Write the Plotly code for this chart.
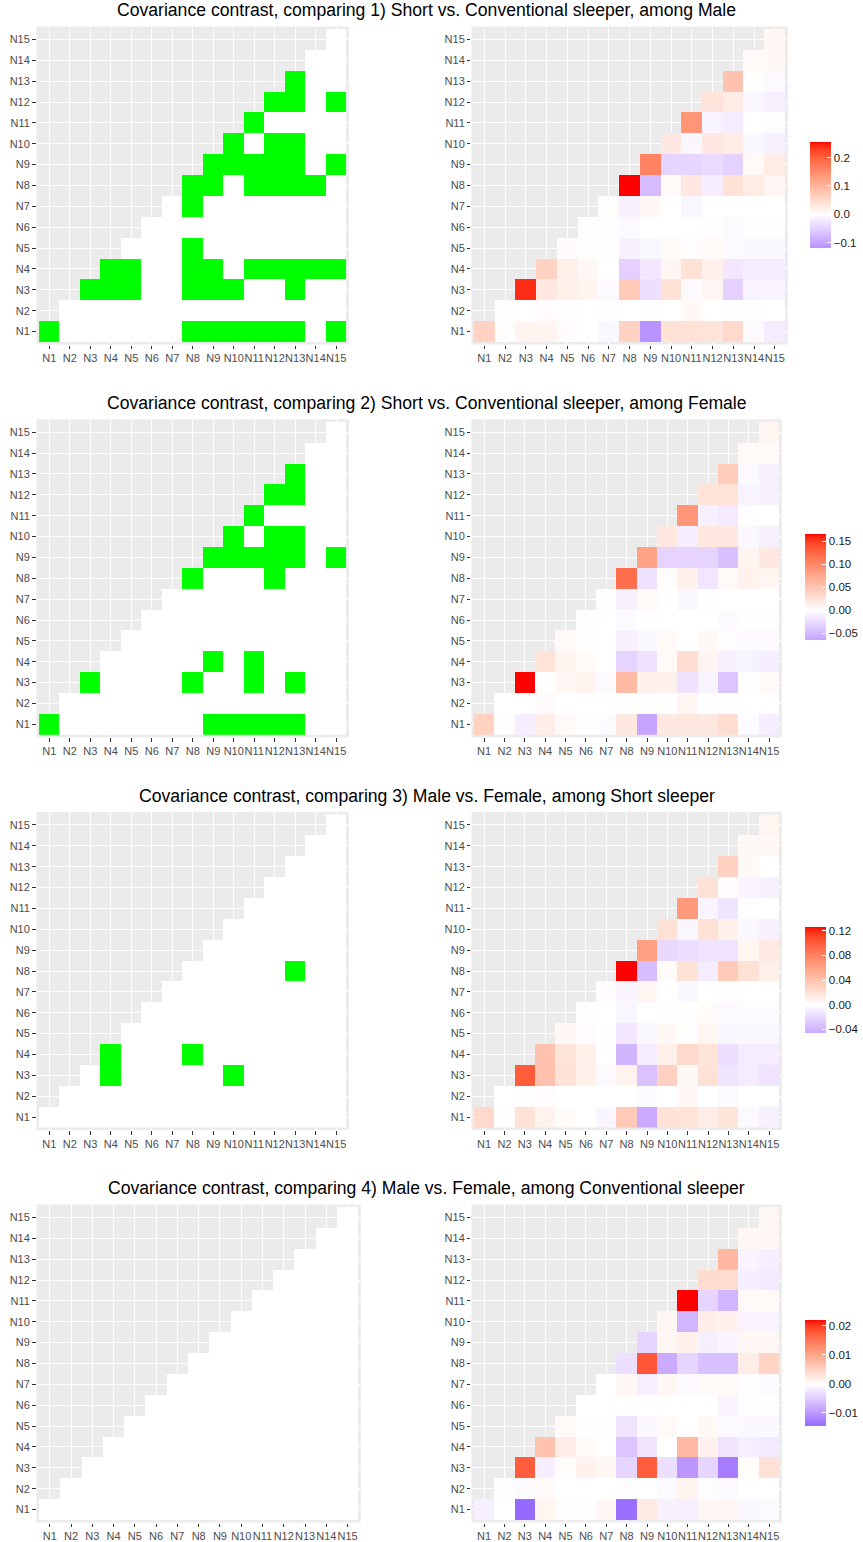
import numpy as np
import plotly.graph_objects as go

LABELS = [f"N{i}" for i in range(1, 16)]

TITLES = [
    "Covariance contrast, comparing 1) Short vs. Conventional sleeper, among Male",
    "Covariance contrast, comparing 2) Short vs. Conventional sleeper, among Female",
    "Covariance contrast, comparing 3) Male vs. Female, among Short sleeper",
    "Covariance contrast, comparing 4) Male vs. Female, among Conventional sleeper",
]

# Upper-triangle contrasts: row Ni lists values for columns Ni..N15
DIFF1 = [
    [0.06, 0.003, 0.015, 0.015, 0.004, 0.0, -0.008, 0.06, -0.119, 0.04, 0.04, 0.035, 0.05, -0.006, -0.02],
    [0.001, 0.0, 0.004, 0.001, 0.0, -0.001, 0.0, -0.003, 0.0, 0.01, 0.0, -0.003, -0.001, 0.0],
    [0.24, 0.03, 0.02, 0.015, -0.006, 0.07, -0.035, 0.04, -0.005, 0.012, -0.05, -0.012, -0.012],
    [0.06, 0.02, 0.01, 0.0, -0.05, -0.025, 0.012, 0.04, 0.02, -0.025, -0.018, -0.018],
    [0.005, 0.003, 0.001, -0.015, -0.008, 0.006, 0.003, 0.008, -0.006, -0.007, -0.007],
    [0.002, 0.001, -0.005, 0.0, 0.0, 0.0, 0.001, -0.005, -0.002, -0.002],
    [0.003, -0.015, 0.01, 0.0, -0.01, 0.0, 0.0, 0.0, 0.0],
    [0.255, -0.072, 0.008, 0.03, -0.018, 0.04, 0.025, 0.012],
    [0.16, -0.045, -0.045, -0.04, -0.05, 0.008, 0.025],
    [0.03, -0.01, 0.03, 0.025, -0.008, -0.015],
    [0.14, -0.012, -0.02, 0.0, -0.003],
    [0.035, 0.025, -0.01, -0.015],
    [0.08, 0.002, -0.005],
    [0.008, 0.01],
    [0.01],
]
DIFF2 = [
    [0.04, 0.002, -0.012, 0.015, 0.004, -0.001, -0.003, 0.02, -0.065, 0.02, 0.02, 0.02, 0.03, -0.003, -0.012],
    [0.0, 0.0, 0.003, 0.0, 0.0, 0.0, 0.0, -0.002, -0.001, 0.008, 0.0, -0.001, 0.0, 0.0],
    [0.166, 0.0, 0.006, 0.01, -0.004, 0.06, 0.012, 0.012, -0.02, -0.008, -0.04, 0.001, 0.004],
    [0.025, 0.01, 0.004, 0.0, -0.03, -0.02, 0.005, 0.03, 0.01, -0.01, -0.008, -0.012],
    [0.004, 0.001, 0.0, -0.01, -0.006, 0.004, 0.0, 0.006, -0.002, -0.004, -0.004],
    [0.001, 0.0, -0.003, 0.001, 0.0, 0.0, 0.0, -0.004, -0.001, -0.001],
    [0.002, -0.01, 0.005, 0.0, -0.006, 0.001, 0.0, 0.0, 0.0],
    [0.12, -0.02, 0.002, 0.012, -0.018, 0.004, 0.012, 0.008],
    [0.08, -0.03, -0.03, -0.03, -0.045, 0.01, 0.02],
    [0.02, -0.012, 0.02, 0.02, -0.006, -0.01],
    [0.09, -0.01, -0.015, 0.001, 0.0],
    [0.025, 0.025, -0.008, -0.01],
    [0.045, -0.004, -0.01],
    [0.005, 0.005],
    [0.008],
]
DIFF3 = [
    [0.025, 0.001, 0.02, 0.008, 0.003, 0.0, -0.005, 0.035, -0.046, 0.02, 0.018, 0.012, 0.018, -0.003, -0.008],
    [0.0, 0.001, 0.002, 0.0, 0.0, 0.0, 0.0, -0.002, 0.0, 0.005, 0.0, -0.002, 0.0, 0.0],
    [0.1, 0.04, 0.02, 0.01, -0.003, 0.008, -0.033, 0.03, 0.004, 0.02, -0.014, -0.01, -0.015],
    [0.04, 0.018, 0.01, 0.0, -0.04, -0.01, 0.01, 0.025, 0.018, -0.018, -0.01, -0.01],
    [0.005, 0.002, 0.0, -0.012, -0.004, 0.005, 0.001, 0.006, -0.005, -0.004, -0.004],
    [0.001, 0.0, -0.005, 0.0, 0.001, 0.001, 0.003, -0.003, -0.002, -0.002],
    [0.002, -0.006, 0.006, 0.0, -0.004, 0.0, -0.001, 0.0, 0.0],
    [0.126, -0.035, 0.003, 0.02, -0.01, 0.035, 0.02, 0.01],
    [0.062, -0.02, -0.018, -0.015, -0.015, 0.006, 0.015],
    [0.02, -0.005, 0.02, 0.01, -0.004, -0.008],
    [0.065, -0.006, -0.014, 0.0, 0.0],
    [0.02, 0.002, -0.006, -0.008],
    [0.03, 0.004, 0.0],
    [0.005, 0.005],
    [0.006],
]
DIFF4 = [
    [-0.0015, 0.0, -0.0143, 0.0012, 0.0003, -0.0002, 0.001, -0.0138, 0.0025, -0.0012, -0.0015, 0.001, 0.001, -0.0007, -0.0004],
    [0.0002, -0.0005, 0.0006, 0.0, 0.0, 0.0, -0.0003, 0.0, -0.0004, 0.0013, -0.0003, -0.0005, 0.0, 0.0],
    [0.0175, -0.0015, 0.0003, 0.0015, 0.001, -0.004, 0.0175, -0.003, -0.01, -0.004, -0.0125, 0.0004, 0.0035],
    [0.007, 0.002, 0.0006, 0.0, -0.0055, -0.0025, 0.0, 0.008, 0.0015, -0.0025, -0.0015, -0.002],
    [0.0006, 0.0002, 0.0002, -0.0025, -0.0007, 0.0006, 0.0, 0.0008, -0.0004, -0.0007, -0.0007],
    [0.0, 0.0, 0.0, 0.0, 0.0, 0.0, 0.0, -0.001, -0.0003, -0.0002],
    [0.0, 0.001, -0.0015, 0.001, -0.0005, 0.0006, 0.0006, -0.0002, -0.0004],
    [-0.003, 0.018, -0.008, -0.004, -0.006, -0.006, 0.002, 0.005],
    [-0.004, 0.001, 0.0015, -0.0015, -0.001, 0.001, 0.001],
    [0.001, -0.007, 0.002, 0.0015, -0.001, -0.001],
    [0.0221, -0.004, -0.007, 0.0006, 0.0006],
    [0.004, 0.004, -0.0015, -0.002],
    [0.008, -0.001, -0.0015],
    [0.001, 0.001],
    [0.001],
]

# Significant cells (row -> significant columns)
SIG1 = {
    "N1": ["N1", "N8", "N9", "N10", "N11", "N12", "N13", "N15"],
    "N3": ["N3", "N4", "N5", "N8", "N9", "N10", "N13"],
    "N4": ["N4", "N5", "N8", "N9", "N11", "N12", "N13", "N14", "N15"],
    "N5": ["N8"],
    "N7": ["N8"],
    "N8": ["N8", "N9", "N11", "N12", "N13", "N14"],
    "N9": ["N9", "N10", "N11", "N12", "N13", "N15"],
    "N10": ["N10", "N12", "N13"],
    "N11": ["N11"],
    "N12": ["N12", "N13", "N15"],
    "N13": ["N13"],
}
SIG2 = {
    "N1": ["N1", "N9", "N10", "N11", "N12", "N13"],
    "N3": ["N3", "N8", "N11", "N13"],
    "N4": ["N9", "N11"],
    "N8": ["N8", "N12"],
    "N9": ["N9", "N10", "N11", "N12", "N13", "N15"],
    "N10": ["N10", "N12", "N13"],
    "N11": ["N11"],
    "N12": ["N12", "N13"],
    "N13": ["N13"],
}
SIG3 = {
    "N3": ["N4", "N10"],
    "N4": ["N4", "N8"],
    "N8": ["N13"],
}
SIG4 = {}

CB_TICKS = [
    [-0.1, 0.0, 0.1, 0.2],
    [-0.05, 0.0, 0.05, 0.10, 0.15],
    [-0.04, 0.0, 0.04, 0.08, 0.12],
    [-0.01, 0.0, 0.01, 0.02],
]
CB_FORMATS = [".1f", ".2f", ".2f", ".2f"]

DIFFS = [DIFF1, DIFF2, DIFF3, DIFF4]
SIGS = [SIG1, SIG2, SIG3, SIG4]

# ---------- colour helpers (ggplot-like Lab interpolation) ----------
def _lin(c):
    c = c / 255.0
    return c / 12.92 if c <= 0.04045 else ((c + 0.055) / 1.055) ** 2.4

def _delin(c):
    c = 12.92 * c if c <= 0.0031308 else 1.055 * c ** (1 / 2.4) - 0.055
    return max(0, min(255, round(c * 255)))

WN = (0.95047, 1.0, 1.08883)

def rgb2lab(rgb):
    r, g, b = [_lin(c) for c in rgb]
    X = 0.4124 * r + 0.3576 * g + 0.1805 * b
    Y = 0.2126 * r + 0.7152 * g + 0.0722 * b
    Z = 0.0193 * r + 0.1192 * g + 0.9505 * b
    def f(t):
        return t ** (1 / 3) if t > (6 / 29) ** 3 else t / (3 * (6 / 29) ** 2) + 4 / 29
    fx, fy, fz = f(X / WN[0]), f(Y / WN[1]), f(Z / WN[2])
    return (116 * fy - 16, 500 * (fx - fy), 200 * (fy - fz))

def lab2rgb(lab):
    L, a, b = lab
    fy = (L + 16) / 116
    fx = fy + a / 500
    fz = fy - b / 200
    def fi(t):
        return t ** 3 if t > 6 / 29 else 3 * (6 / 29) ** 2 * (t - 4 / 29)
    X, Y, Z = WN[0] * fi(fx), WN[1] * fi(fy), WN[2] * fi(fz)
    r = 3.2406 * X - 1.5372 * Y - 0.4986 * Z
    g = -0.9689 * X + 1.8758 * Y + 0.0415 * Z
    bb = 0.0557 * X - 0.2040 * Y + 1.0570 * Z
    return tuple(_delin(max(0.0, c)) for c in (r, g, bb))

LAB_W = rgb2lab((255, 255, 255))
LAB_R = rgb2lab((255, 0, 0))
LAB_B = rgb2lab((0, 0, 255))

def grad2(v, m):
    f = min(abs(v) / m, 1.0)
    tgt = LAB_R if v >= 0 else LAB_B
    lab = tuple(LAB_W[k] + f * (tgt[k] - LAB_W[k]) for k in range(3))
    r, g, b = lab2rgb(lab)
    return f"rgb({r},{g},{b})"

def colorscale(zmin, zmax, n=61):
    m = max(abs(zmin), abs(zmax))
    ts = set(np.linspace(0, 1, n).round(6).tolist())
    ts.add(round(-zmin / (zmax - zmin), 6))
    return [[t, grad2(zmin + t * (zmax - zmin), m)] for t in sorted(ts)]

def full_matrix(tri):
    z = [[None] * 15 for _ in range(15)]
    for i, row in enumerate(tri):
        for k, v in enumerate(row):
            z[i][i + k] = v
    return z

def sig_matrix(sig):
    z = [[None] * 15 for _ in range(15)]
    for i in range(15):
        for j in range(i, 15):
            z[i][j] = 1 if LABELS[j] in sig.get(LABELS[i], []) else 0
    return z

# ---------- layout geometry (pixels) ----------
W, H = 863, 1542
TOPS = [26.5, 419.3, 812.0, 1204.5]
PH = 318
LEFT_X = [(37, 353), (37, 353), (37, 353), (37, 365)]
RIGHT_X = [(477, 797), (477, 791), (477, 791), (477, 791)]
CB_X = [820, 814, 814, 814]
CB_YC = [195, 587, 980, 1372.5]
TITLE_Y = [10.5, 403, 795.5, 1188]

FONT = "Liberation Sans, Arial, Helvetica, sans-serif"

fig = go.Figure()
layout = dict(
    width=W, height=H, autosize=False,
    margin=dict(l=0, r=0, t=0, b=0),
    paper_bgcolor="white", plot_bgcolor="#EBEBEB",
    font=dict(family=FONT),
    showlegend=False,
    annotations=[],
)

def axis_common():
    return dict(
        type="category", categoryorder="array", categoryarray=LABELS,
        tickmode="array", tickvals=LABELS, ticktext=LABELS,
        range=[-0.62, 14.62], showgrid=True, gridcolor="white", gridwidth=1.1,
        zeroline=False, showline=False, ticks="outside", ticklen=3.5,
        tickwidth=1, tickcolor="#333333", tickangle=0,
        tickfont=dict(size=11, color="#4D4D4D", family=FONT), fixedrange=True,
    )

SIG_SCALE = [[0, "#FFFFFF"], [0.5, "#FFFFFF"], [0.5, "#00FF00"], [1, "#00FF00"]]

for r in range(4):
    y0 = 1 - (TOPS[r] + PH) / H
    y1 = 1 - TOPS[r] / H
    # left panel
    k = 2 * r
    xs = "" if k == 0 else str(k + 1)
    fig.add_trace(go.Heatmap(
        x=LABELS, y=LABELS, z=sig_matrix(SIGS[r]), zmin=0, zmax=1,
        colorscale=SIG_SCALE, showscale=False, hoverongaps=False,
        xaxis="x" + xs, yaxis="y" + xs,
    ))
    ax = axis_common(); ax.update(domain=[LEFT_X[r][0] / W, LEFT_X[r][1] / W], anchor="y" + xs)
    ay = axis_common(); ay.update(domain=[y0, y1], anchor="x" + xs)
    layout["xaxis" + xs] = ax
    layout["yaxis" + xs] = ay

    # right panel
    k = 2 * r + 1
    xs = str(k + 1)
    vals = [v for row in DIFFS[r] for v in row]
    zmin, zmax = min(vals), max(vals)
    fig.add_trace(go.Heatmap(
        x=LABELS, y=LABELS, z=full_matrix(DIFFS[r]), zmin=zmin, zmax=zmax,
        colorscale=colorscale(zmin, zmax), hoverongaps=False,
        xaxis="x" + xs, yaxis="y" + xs,
        colorbar=dict(
            x=CB_X[r] / W, xanchor="left", xpad=0,
            y=1 - CB_YC[r] / H, yanchor="middle", ypad=0,
            len=106, lenmode="pixels", thickness=21, thicknessmode="pixels",
            outlinewidth=0, tickmode="array", tickvals=CB_TICKS[r],
            tickformat=CB_FORMATS[r], ticks="inside", ticklen=4,
            tickcolor="white", tickwidth=1,
            tickfont=dict(size=11.5, color="#1A1A1A", family=FONT),
        ),
    ))
    ax = axis_common(); ax.update(domain=[RIGHT_X[r][0] / W, RIGHT_X[r][1] / W], anchor="y" + xs)
    ay = axis_common(); ay.update(domain=[y0, y1], anchor="x" + xs)
    layout["xaxis" + xs] = ax
    layout["yaxis" + xs] = ay

    layout["annotations"].append(dict(
        text=TITLES[r], x=0.5, xref="paper", xanchor="center",
        y=1 - TITLE_Y[r] / H, yref="paper", yanchor="middle",
        showarrow=False, font=dict(size=17.6, color="black", family=FONT),
    ))

fig.update_layout(**layout)
fig.write_html(
    "out.html",
    config={"displayModeBar": False},
    post_script="document.body.style.margin='0';document.body.style.overflow='hidden';",
)
